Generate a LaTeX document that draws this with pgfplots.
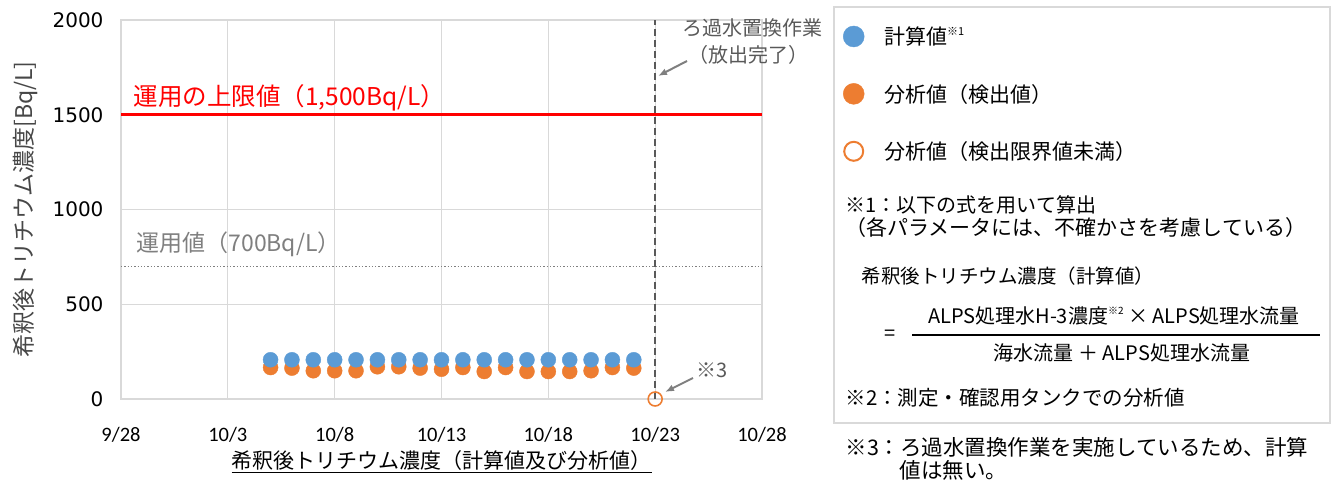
\documentclass[border=0pt]{standalone}
\usepackage{pgfplots}
\pgfplotsset{compat=1.18}
\usepackage{fontspec}
\setmainfont{Noto Sans CJK JP}
\newfontfamily\tickfont{Carlito}
\newfontfamily\numfont{DejaVu Sans}
\usetikzlibrary{arrows.meta}
\definecolor{cblue}{HTML}{5B9BD5}
\definecolor{corange}{HTML}{ED7D31}
\definecolor{cgrid}{HTML}{D9D9D9}
\definecolor{cdark}{HTML}{595959}
\definecolor{clabel}{HTML}{7F7F7F}
\newcommand{\fs}[1]{\fontsize{#1}{#1}\selectfont}

\pgfplotstableread{
x calc
7 207
8 207
9 207
10 207
11 207
12 207
13 207
14 207
15 207
16 207
17 207
18 207
19 207
20 207
21 207
22 207
23 207
24 207
}\calcdata
\pgfplotstableread{
x meas
7 166
8 163
9 149
10 149
11 149
12 170
13 170
14 163
15 157
16 166
17 145
18 166
19 145
20 145
21 145
22 149
23 166
24 163
}\measdata
\pgfplotstableread{
x nd
25 0
}\nddata

\begin{document}
\begin{tikzpicture}[x=1pt,y=1pt]
\useasboundingbox (0,0) rectangle (1338,481);
\begin{axis}[
  at={(121pt,82pt)}, anchor=south west,
  scale only axis, width=641pt, height=379pt,
  xmin=0, xmax=30, ymin=0, ymax=2000,
  xtick={0,5,...,30},
  xticklabels={9/28,10/3,10/8,10/13,10/18,10/23,10/28},
  ytick={0,500,...,2000},
  scaled y ticks=false,
  /pgf/number format/1000 sep={},
  /pgf/number format/assume math mode=true,
  grid=major,
  major grid style={cgrid, line width=1.3pt},
  axis line style={cgrid, line width=1.5pt},
  tick style={draw=none},
  clip=false,
  xticklabel style={font=\tickfont\fs{20.5}, yshift=-25pt},
  yticklabel style={font=\numfont\fs{20}, xshift=-14pt},
  xlabel={\underline{希釈後トリチウム濃度（計算値及び分析値）}},
  xlabel style={font=\fs{21}, at={(axis description cs:0.5,0)}, anchor=center, yshift=-63pt},
  ylabel={希釈後トリチウム濃度[Bq/L]},
  ylabel style={font=\fs{23}, at={(axis description cs:-0.1498,0.5)}, anchor=center, color=cdark!80!black},
  legend style={at={(axis description cs:1.1217,0.993)}, anchor=north west,
    draw=none, fill=none, font=\fs{21}, row sep=34pt,
    nodes={inner sep=2pt},
    /tikz/every odd column/.append style={column sep=18pt}},
  legend cell align=left,
]
\addplot[red, line width=3pt, forget plot] coordinates {(0,1500) (30,1500)};
\addplot[clabel, dotted, line width=1.3pt, forget plot] coordinates {(0,700) (30,700)};
\addplot[cdark, dash pattern=on 7pt off 4pt, line width=1.5pt, forget plot] coordinates {(25,0) (25,2000)};
\addplot[only marks, mark=*, mark size=7.5pt, color=corange, forget plot] table[x=x, y=meas] {\measdata};
\addplot[only marks, mark=*, mark size=7.5pt, color=cblue, forget plot] table[x=x, y=calc] {\calcdata};
\addplot[only marks, mark=o, mark size=7pt, color=corange, line width=1.6pt, mark options={fill=white}, forget plot] table[x=x, y=nd] {\nddata};
\addlegendimage{only marks, mark=*, mark size=10.5pt, color=cblue}
\addlegendentry{計算値\raisebox{0.45em}{\fs{11}※1}}
\addlegendimage{only marks, mark=*, mark size=10.5pt, color=corange}
\addlegendentry{分析値（検出値）}
\addlegendimage{only marks, mark=o, mark size=9.5pt, color=corange, line width=2pt}
\addlegendentry{分析値（検出限界値未満）}
\end{axis}
% in-chart annotations
\node[anchor=west, red, font=\fs{24.5}] at (130,383) {運用の上限値（1,500Bq/L）};
\node[anchor=west, clabel, font=\fs{23}] at (133,237) {運用値（700Bq/L）};
\node[font=\fs{20}, color=cdark] at (752,453) {ろ過水置換作業};
\node[font=\fs{20}, color=cdark] at (748,426) {（放出完了）};
\draw[-{Latex[length=9pt,width=7pt]}, clabel, line width=2pt] (687,420) -- (658,405);
\node[font=\fs{20}, color=cdark] at (712,111) {※3};
\draw[-{Latex[length=9pt,width=7pt]}, clabel, line width=2pt] (693,103) -- (665,89);
% legend / notes box
\draw[cgrid, line width=1.5pt] (834,474) rectangle (1330,58);
\node[anchor=west, font=\fs{20}] at (842,276) {※1：以下の式を用いて算出};
\node[anchor=west, font=\fs{21}] at (842,253) {（各パラメータには、不確かさを考慮している）};
\node[anchor=west, font=\fs{19.5}] at (858,205) {希釈後トリチウム濃度（計算値）};
\node[font=\fs{20}] at (890,146) {=};
\draw[black, line width=1.3pt] (912,146) -- (1320,146);
\node[font=\fs{20}] at (1114,165) {ALPS処理水H-3濃度\raisebox{0.45em}{\fs{10}※2} × ALPS処理水流量};
\node[font=\fs{20}] at (1122,128) {海水流量 ＋ ALPS処理水流量};
\node[anchor=west, font=\fs{20.5}] at (842,83) {※2：測定・確認用タンクでの分析値};
\node[anchor=west, font=\fs{21.5}] at (842,34) {※3：ろ過水置換作業を実施しているため、計算};
\node[anchor=west, font=\fs{21.5}] at (896,11) {値は無い。};
\end{tikzpicture}
\end{document}
